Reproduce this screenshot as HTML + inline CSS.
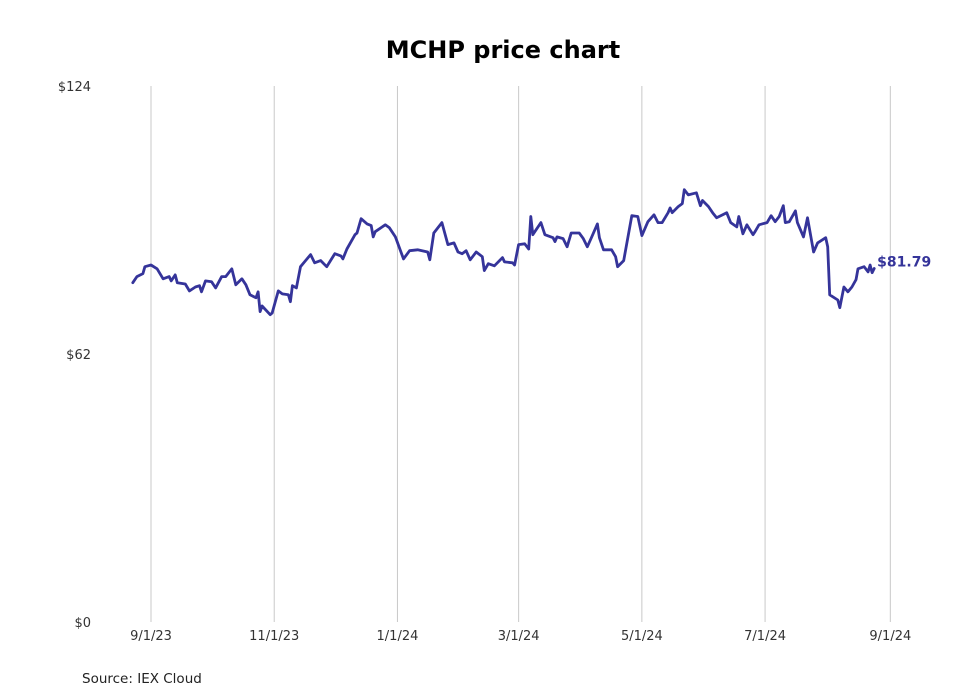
<!DOCTYPE html>
<html><head><meta charset="utf-8"><style>
html,body{margin:0;padding:0;background:#fff;}
svg{display:block;font-family:"DejaVu Sans","Liberation Sans",sans-serif;}
</style></head><body>
<svg id="chart" width="980" height="699" viewBox="0 0 980 699" xmlns="http://www.w3.org/2000/svg">
<text x="503" y="58" text-anchor="middle" font-size="24" font-weight="bold" fill="#000">MCHP price chart</text>
<g id="grid"></g><g id="yaxis"></g><g id="xaxis"></g><g id="series"></g>
<text x="82" y="683" font-size="13.5" fill="#222">Source: IEX Cloud</text>
</svg>
<script>
const tickDays = [0, 61, 122, 182, 243, 304, 366];
const tickLabels = ["9/1/23","11/1/23","1/1/24","3/1/24","5/1/24","7/1/24","9/1/24"];
const yTicks = [0, 62, 124];
const yTickLabels = ["$0","$62","$124"];
const days = [-9,-7,-4,-3,0,3,6,9,10,12,13,17,19,22,24,25,27,30,32,35,37,40,42,45,47,49,52,53,54,55,59,60,63,65,68,69,70,72,74,76,79,81,84,87,91,94,95,97,101,102,104,107,109,110,111,116,118,121,125,128,132,137,138,140,144,147,150,152,154,156,158,161,164,165,167,170,174,175,179,180,182,185,187,188,189,193,195,199,200,201,204,206,208,212,214,216,218,221,222,224,228,230,231,234,238,241,243,246,249,251,253,256,257,258,261,263,264,266,270,272,273,276,278,280,283,285,287,290,291,293,295,298,299,301,305,307,309,311,313,314,316,319,320,323,325,328,330,334,335,336,340,341,343,345,347,349,350,353,355,356,357,358];
const prices = [78.5,79.9,80.6,82.2,82.6,81.7,79.4,79.9,78.9,80.3,78.5,78.2,76.6,77.5,77.8,76.4,78.9,78.7,77.3,79.9,79.9,81.7,78.0,79.4,78.0,75.7,75.0,76.4,71.8,73.1,71.1,71.5,76.6,75.9,75.7,74.1,77.8,77.3,82.2,83.3,85.0,83.1,83.6,82.2,85.2,84.7,84.0,86.3,89.6,90.0,93.3,92.1,91.7,89.1,90.3,91.9,91.2,89.1,84.0,85.9,86.1,85.6,83.8,90.0,92.4,87.3,87.7,85.6,85.2,85.9,83.8,85.6,84.5,81.3,82.9,82.4,84.3,83.3,83.1,82.6,87.3,87.5,86.3,93.8,89.6,92.4,89.6,88.9,88.0,89.1,88.7,86.8,90.0,90.0,88.7,86.8,88.9,92.1,88.9,86.1,86.1,84.5,82.2,83.6,94.0,93.8,89.4,92.6,94.2,92.4,92.4,94.7,95.8,94.7,96.1,96.8,100.0,98.8,99.3,96.3,97.5,96.1,94.7,93.5,94.2,94.7,92.4,91.4,93.8,89.8,91.9,89.6,90.3,91.9,92.4,94.0,92.6,93.8,96.3,92.4,92.6,95.1,92.4,89.1,93.5,85.6,87.7,88.9,86.8,75.7,74.5,72.7,77.5,76.4,77.5,79.2,81.7,82.2,81.0,82.6,80.8,81.79];
const lastLabel = "$81.79";

const NS = "http://www.w3.org/2000/svg";
const X0 = 151, PXD = 2.02, Y0 = 622, Y1 = 86, YMAX = 124;
const xS = d => X0 + d * PXD;
const yS = v => Y0 - v / YMAX * (Y0 - Y1);
function mk(tag, attrs, parent){const e=document.createElementNS(NS,tag);for(const k in attrs)e.setAttribute(k,attrs[k]);parent.appendChild(e);return e;}
const grid=document.getElementById('grid'), xa=document.getElementById('xaxis'), ya=document.getElementById('yaxis'), se=document.getElementById('series');
tickDays.forEach((d,i)=>{
  const l=mk('line',{x1:xS(d),x2:xS(d),y1:Y1,y2:Y0,stroke:'#c8c8c8','stroke-width':1},grid);
  
  
  const t=mk('text',{x:xS(d),y:Y0+18,'text-anchor':'middle','font-size':13,fill:'#333'},xa);
  t.textContent=tickLabels[i];
  
  
});
yTicks.forEach((v,i)=>{
  const t=mk('text',{x:91,y:yS(v)+5,'text-anchor':'end','font-size':13,fill:'#333'},ya);
  t.textContent=yTickLabels[i];
  
  
});
const pts=days.map((d,i)=>xS(d).toFixed(1)+','+yS(prices[i]).toFixed(1)).join(' ');
const pl=mk('polyline',{points:pts,fill:'none',stroke:'#35349a','stroke-width':2.8,'stroke-linejoin':'round','stroke-linecap':'round'},se);


const n=days.length-1;
const lt=mk('text',{x:xS(days[n])+3,y:yS(prices[n])-2,'font-size':14,'font-weight':'bold',fill:'#35349a'},se);
lt.textContent=lastLabel;


</script>
</body></html>
